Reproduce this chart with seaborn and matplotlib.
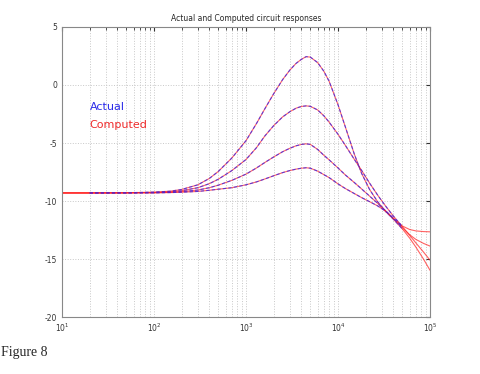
import matplotlib
matplotlib.use("Agg")
import matplotlib.pyplot as plt
import matplotlib.ticker as mticker
import pandas as pd
import seaborn as sns

# frequencies (Hz) for the computed response
freq = [10, 20, 30, 50, 70, 100, 150, 200, 300, 400, 500, 700, 1000, 1300, 1600,
        2000, 2500, 3000, 3500, 4000, 4500, 5000, 6000, 7000, 8000, 10000, 12000,
        15000, 18000, 22000, 27000, 33000, 40000, 50000, 60000, 70000, 85000, 100000]

# gain (dB) of the four responses
resp_a = [-9.30, -9.30, -9.29, -9.28, -9.26, -9.23, -9.15, -9.00, -8.60, -8.05, -7.45,
          -6.30, -4.80, -3.32, -2.06, -0.75, 0.46, 1.29, 1.86, 2.21, 2.44, 2.40, 1.93,
          1.19, 0.32, -1.71, -3.61, -5.94, -7.60, -9.00, -10.07, -10.91, -11.57, -12.40,
          -13.19, -13.96, -15.01, -15.97]
resp_b = [-9.30, -9.30, -9.29, -9.29, -9.27, -9.26, -9.20, -9.11, -8.85, -8.50, -8.12,
          -7.38, -6.42, -5.40, -4.40, -3.50, -2.75, -2.30, -2.00, -1.85, -1.80, -1.84,
          -2.15, -2.65, -3.20, -4.25, -5.20, -6.40, -7.35, -8.45, -9.50, -10.45, -11.30,
          -12.20, -12.95, -13.60, -14.40, -15.10]
resp_c = [-9.30, -9.30, -9.30, -9.29, -9.29, -9.28, -9.25, -9.19, -9.05, -8.85, -8.63,
          -8.22, -7.68, -7.15, -6.68, -6.20, -5.75, -5.45, -5.24, -5.12, -5.07, -5.12,
          -5.55, -6.05, -6.45, -7.15, -7.75, -8.40, -8.95, -9.57, -10.20, -10.85,
          -11.50, -12.30, -12.90, -13.30, -13.65, -13.88]
resp_d = [-9.30, -9.30, -9.30, -9.30, -9.29, -9.29, -9.27, -9.24, -9.17, -9.07, -8.98,
          -8.85, -8.60, -8.35, -8.10, -7.82, -7.55, -7.37, -7.25, -7.17, -7.13, -7.17,
          -7.42, -7.72, -7.98, -8.52, -8.92, -9.35, -9.70, -10.05, -10.42, -10.88,
          -11.50, -12.15, -12.45, -12.57, -12.63, -12.65]

# measured ("actual") data covers 20 Hz .. 50 kHz
act_lo, act_hi = 1, 33

sns.set_style("white")
plt.rcParams['font.family'] = ['DejaVu Sans']
plt.rcParams['axes.unicode_minus'] = False

fig = plt.figure(figsize=(4.8, 3.74), dpi=100)
ax = fig.add_axes([0.129, 0.152, 0.767, 0.776])

for resp in [resp_a, resp_b, resp_c, resp_d]:
    comp = pd.DataFrame({'f': freq, 'db': resp})
    sns.lineplot(data=comp, x='f', y='db', ax=ax, color='#ff2020', lw=0.8,
                 alpha=0.7, estimator=None, sort=False)
    act = comp.iloc[act_lo:act_hi + 1]
    sns.lineplot(data=act, x='f', y='db', ax=ax, color='#2020ff', lw=0.8,
                 alpha=0.7, estimator=None, sort=False, dashes=False,
                 linestyle=(0, (3, 2)))

ax.set_xscale('log')
ax.set_xlim(10, 1e5)
ax.set_ylim(-20, 5)
ax.set_yticks([-20, -15, -10, -5, 0, 5])
ax.xaxis.set_major_locator(mticker.LogLocator(base=10))
ax.xaxis.set_minor_locator(mticker.LogLocator(base=10, subs=range(2, 10)))
ax.xaxis.set_minor_formatter(mticker.NullFormatter())
ax.set_xlabel('')
ax.set_ylabel('')

ax.grid(True, which='major', axis='both', color='#c8c8c8', ls=':', lw=0.7)
ax.grid(True, which='minor', axis='x', color='#c8c8c8', ls=':', lw=0.7)
ax.tick_params(which='both', direction='in', top=True, right=True,
               labelsize=5.5, colors='#333333', length=3)
ax.tick_params(which='minor', length=2)
for sp in ax.spines.values():
    sp.set_color('#888888')
    sp.set_linewidth(0.8)

ax.set_title('Actual and Computed circuit responses', fontsize=5.5, pad=4)
ax.text(20, -1.9, 'Actual', color='#2a2ae8', fontsize=8, va='center')
ax.text(20, -3.45, 'Computed', color='#ee2a2a', fontsize=8, va='center')

fig.text(0.002, 0.057, 'Figure 8', fontsize=10, family='Liberation Serif', va='center')

plt.savefig('out.png', dpi=100)
